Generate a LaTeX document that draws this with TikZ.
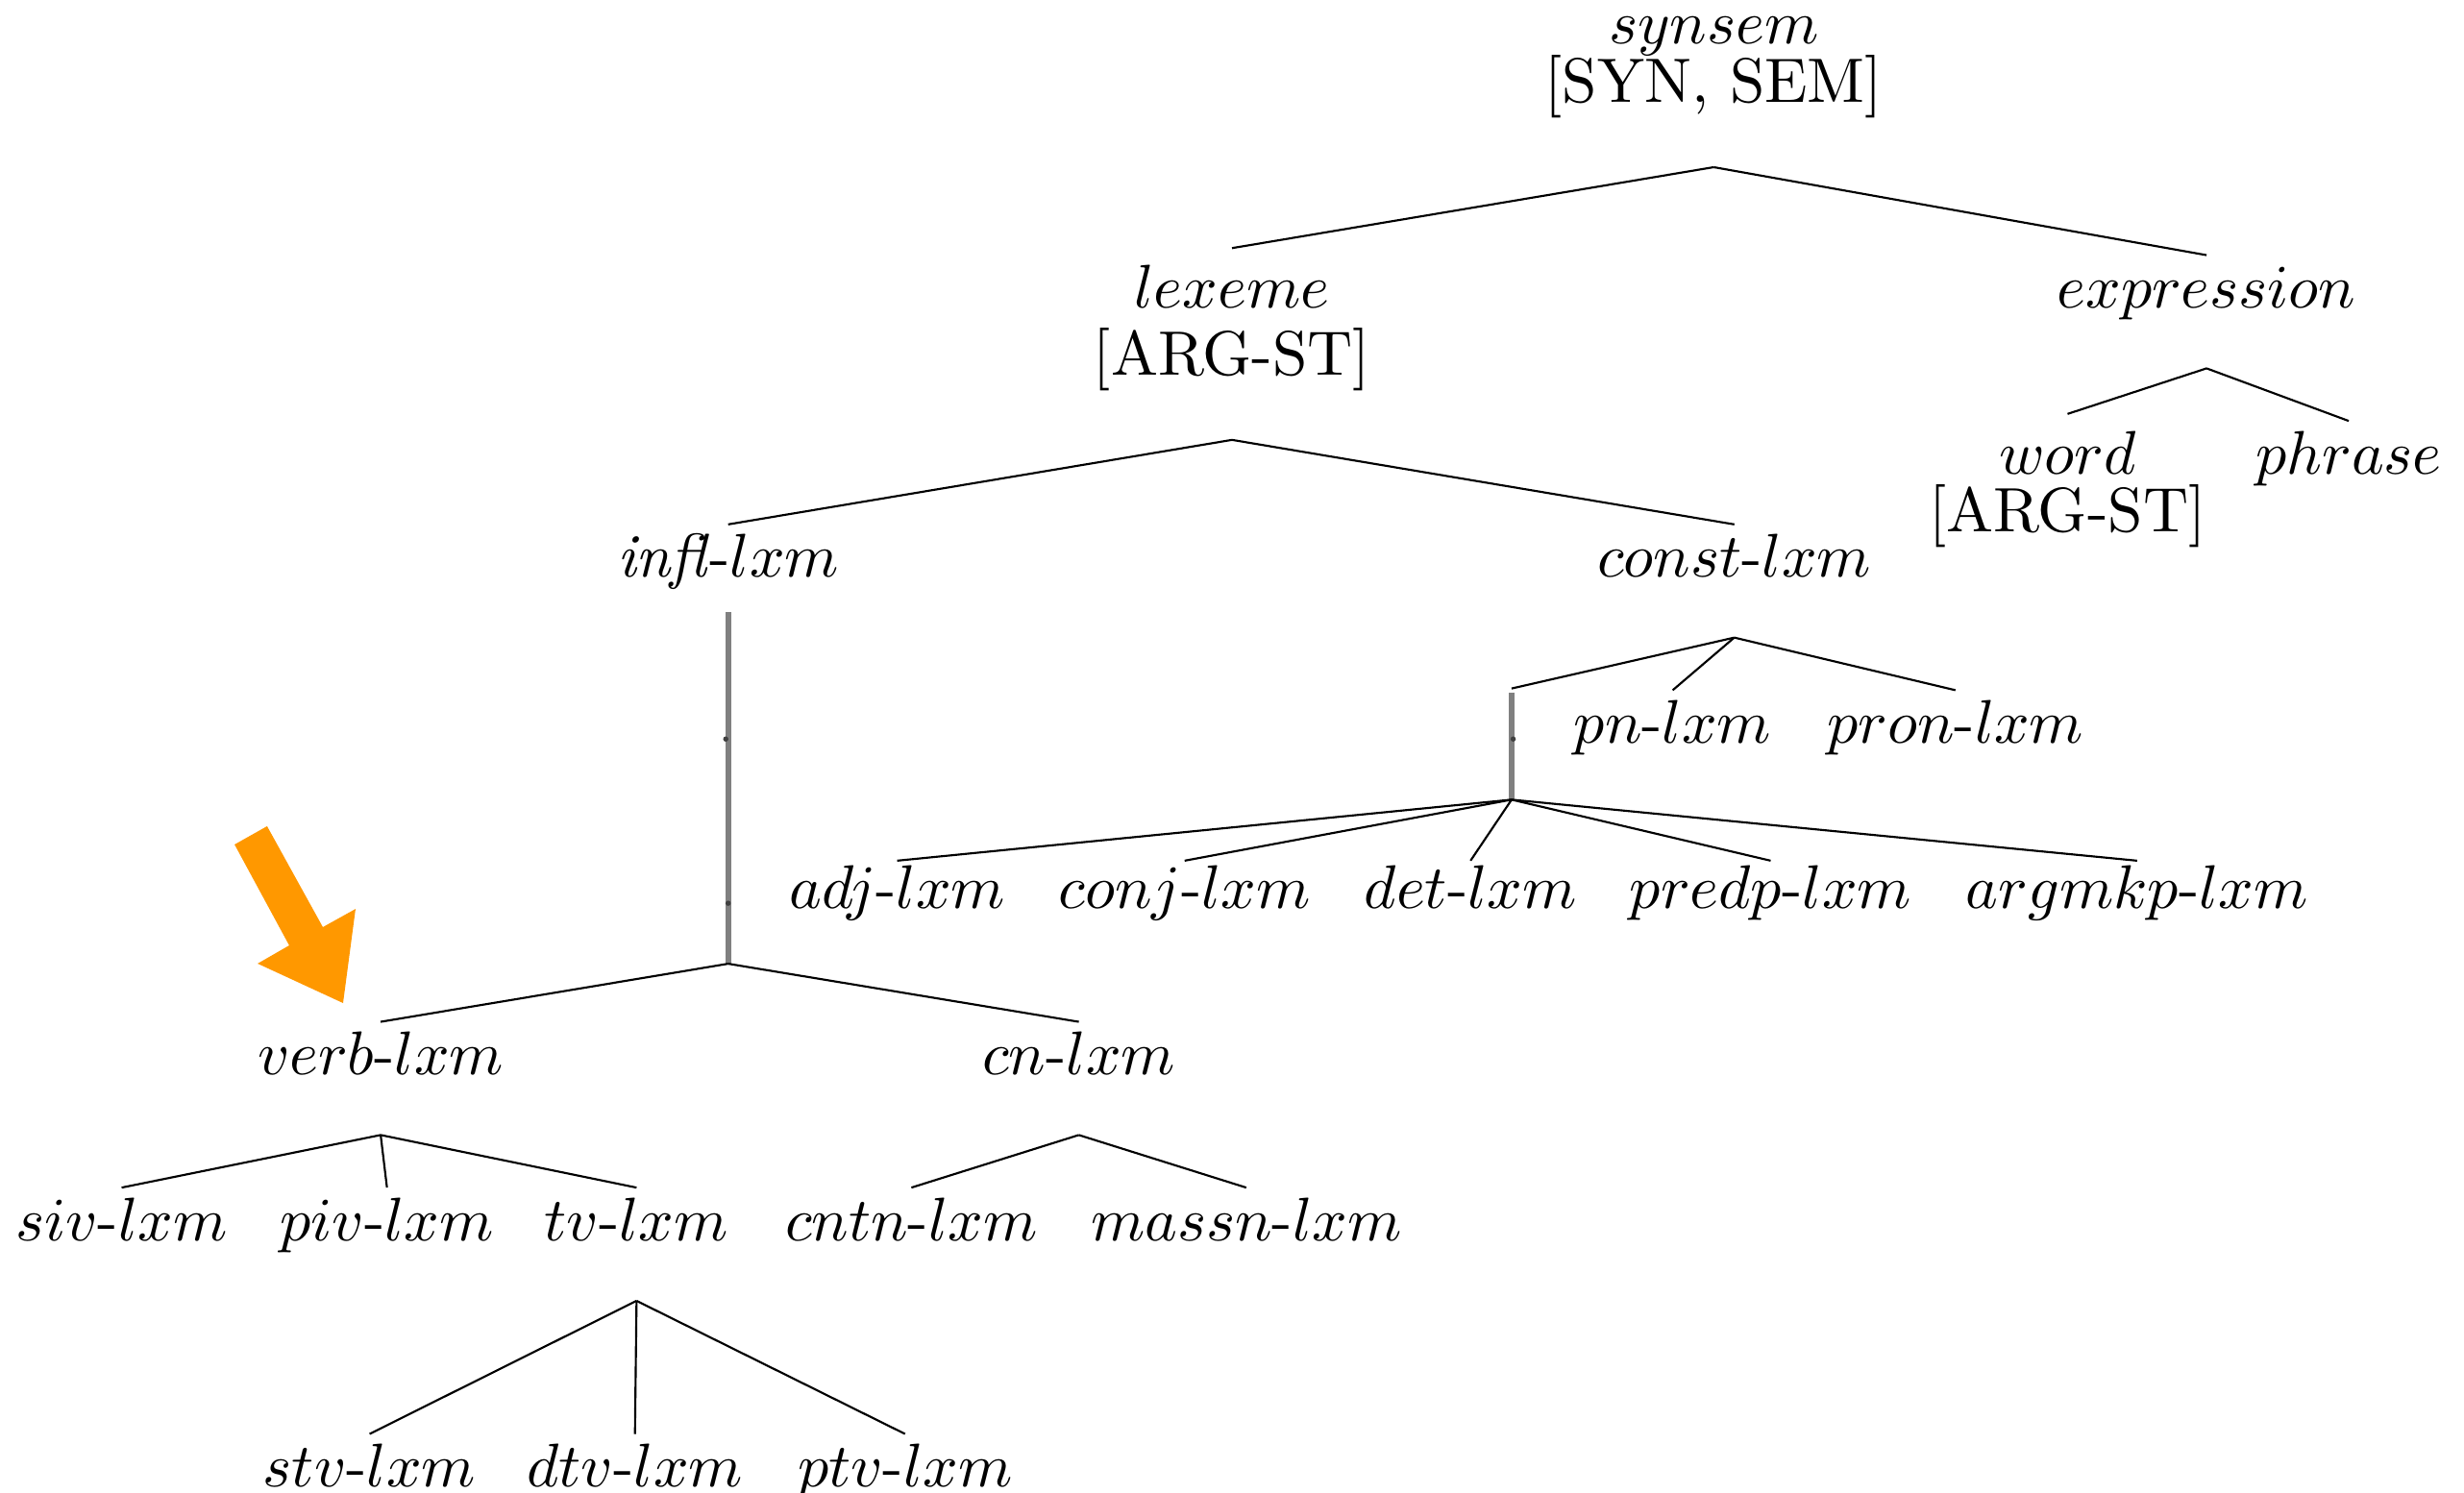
\documentclass[tikz,border=0pt]{standalone}
\usepackage{graphicx}
\usepackage{tikz}
\definecolor{arroworange}{RGB}{255,152,0}
\newcommand{\lxw}[1]{\scalebox{1.05}{#1}}
\tikzset{
  lbl/.style={anchor=base, inner sep=0pt, outer sep=0pt, text height=9pt, text depth=2pt,
              font=\fontsize{10}{12}\selectfont},
  parent/.style={text depth=10.3pt},
  feat/.style={text depth=11pt, font=\fontsize{10.7}{13}\selectfont},
  branch/.style={draw=black, line width=0.35pt},
  grayline/.style={draw=black!50, line width=1pt},
  tinydot/.style={fill=black!75, draw=none},
}
\begin{document}
\begin{tikzpicture}[x=0.26923pt, y=-0.26923pt]
\useasboundingbox (0,0) rectangle (1560,945);

% nodes
\node[lbl] (synsem) at (1085,27.4) {\lxw{$synsem$}};
\node[lbl,feat] (synsemF) at (1085,65) {[SYN, SEM]};
\node[lbl,text height=10.2pt] (lexeme) at (780,195) {\lxw{$lexeme$}};
\node[lbl,feat] (lexemeF) at (780,237.7) {[ARG-ST]};
\node[lbl,parent] (expression) at (1397,195) {\lxw{$expression$}};
\node[lbl,text height=10.2pt] (word) at (1309,300) {\lxw{$word$}};
\node[lbl,feat,text depth=2pt] (wordF) at (1309,336.5) {[ARG-ST]};
\node[lbl] (phrase) at (1487,300) {\lxw{$phrase$}};
\node[lbl,text depth=6pt] (infl) at (461,365.5) {\lxw{\textit{infl}-$lxm$}};
\node[lbl,parent] (const) at (1098,365.5) {\lxw{$const$-$lxm$}};
\node[lbl] (pn) at (1059,470.5) {\lxw{$pn$-$lxm$}};
\node[lbl] (pron) at (1238,470.5) {\lxw{$pron$-$lxm$}};
\node[lbl,text height=8.2pt] (adj) at (568,575.5) {\lxw{$adj$-$lxm$}};
\node[lbl,text height=8.2pt] (conj) at (750,575.5) {\lxw{$conj$-$lxm$}};
\node[lbl,text height=8.2pt] (det) at (931,575.5) {\lxw{$det$-$lxm$}};
\node[lbl,text height=8.2pt] (predp) at (1121,575.5) {\lxw{$predp$-$lxm$}};
\node[lbl,text height=8.2pt] (argmkp) at (1353,575.5) {\lxw{$argmkp$-$lxm$}};
\node[lbl,parent] (verb) at (241,680.5) {\lxw{$verb$-$lxm$}};
\node[lbl,parent] (cn) at (683,680.5) {\lxw{$cn$-$lxm$}};
\node[lbl] (siv) at (77,785.5) {\lxw{$siv$-$lxm$}};
\node[lbl] (piv) at (245,785.5) {\lxw{$piv$-$lxm$}};
\node[lbl,parent] (tv) at (403,785.5) {\lxw{$tv$-$lxm$}};
\node[lbl] (cntn) at (577,785.5) {\lxw{$cntn$-$lxm$}};
\node[lbl] (massn) at (789,785.5) {\lxw{$massn$-$lxm$}};
\node[lbl] (stv) at (234,941.5) {\lxw{$stv$-$lxm$}};
\node[lbl] (dtv) at (402,941.5) {\lxw{$dtv$-$lxm$}};
\node[lbl] (ptv) at (573,941.5) {\lxw{$ptv$-$lxm$}};

% branch points
\coordinate (inflB) at (461,610.3);
\coordinate (constU) at (957,436);
\coordinate (constG) at (957,438.5);
\coordinate (constL) at (957,506.4);

% connectors
\draw[branch] (synsemF.south) -- (lexeme.north);
\draw[branch] (synsemF.south) -- (expression.north);
\draw[branch] (lexemeF.south) -- (infl.north);
\draw[branch] (lexemeF.south) -- (const.north);
\draw[branch] (expression.south) -- (word.north);
\draw[branch] (expression.south) -- (phrase.north);

\draw[grayline] (infl.south) -- (inflB);
\draw[branch] (inflB) -- (verb.north);
\draw[branch] (inflB) -- (cn.north);

\draw[branch] (const.south) -- (constU);
\draw[branch] (const.south) -- (pn.north);
\draw[branch] (const.south) -- (pron.north);
\draw[grayline] (constG) -- (constL);
\draw[branch] (constL) -- (adj.north);
\draw[branch] (constL) -- (conj.north);
\draw[branch] (constL) -- (det.north);
\draw[branch] (constL) -- (predp.north);
\draw[branch] (constL) -- (argmkp.north);

\draw[branch] (verb.south) -- (siv.north);
\draw[branch] (verb.south) -- (piv.north);
\draw[branch] (verb.south) -- (tv.north);
\draw[branch] (cn.south) -- (cntn.north);
\draw[branch] (cn.south) -- (massn.north);
\draw[branch] (tv.south) -- (stv.north);
\draw[branch] (tv.south) -- (dtv.north);
\draw[branch] (tv.south) -- (ptv.north);

% tiny dots on gray lines
\fill[tinydot] (459.5,468) circle (0.45pt);
\fill[tinydot] (461,572) circle (0.45pt);
\fill[tinydot] (958,468) circle (0.45pt);

% orange arrow
\fill[arroworange] (148.5,534.8) -- (169.1,523.2) -- (204.4,587.1) -- (225.1,575.6)
  -- (217.2,635.2) -- (163.1,610.2) -- (183.1,598.7) -- cycle;
\end{tikzpicture}
\end{document}
